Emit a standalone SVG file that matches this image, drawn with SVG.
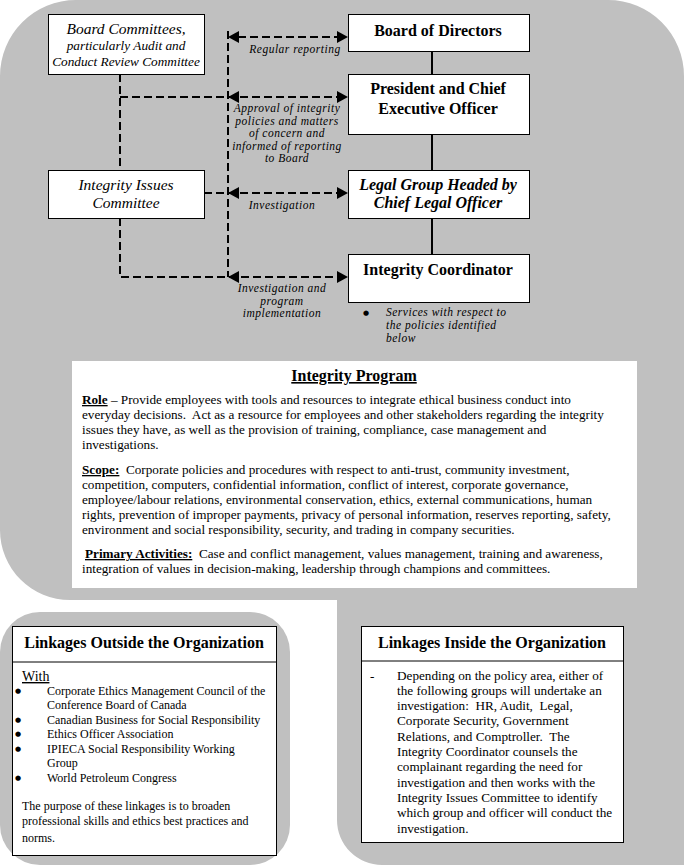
<svg xmlns="http://www.w3.org/2000/svg" width="684" height="865" viewBox="0 0 684 865">
<style>
  text { font-family: "Liberation Serif", "Times New Roman", serif; fill: #000; white-space: pre; }
  .box { fill: #fff; stroke: #000; stroke-width: 1; }
  .bg { fill: #c0c0c0; }
  .dash { fill: none; stroke: #000; stroke-width: 2; stroke-dasharray: 8 4; }
  .solid { fill: none; stroke: #000; stroke-width: 2; }
  .ah { fill: #000; }
  .nb { font-size: 16px; font-weight: bold; text-anchor: middle; }
  .ni { font-style: italic; text-anchor: middle; }
  .lbl { font-size: 11.5px; font-style: italic; text-anchor: middle; letter-spacing: 0.5px; }
  .svc { font-size: 11.5px; font-style: italic; text-anchor: start; letter-spacing: 0.5px; }
  .body { font-size: 13.2px; }
  .bl { font-size: 12px; }
  .br { font-size: 13.2px; }
  .bul { font-family: "DejaVu Sans", sans-serif; font-size: 7px; }
  .u { text-decoration: underline; font-weight: bold; }
  .ttl { font-size: 16px; font-weight: bold; text-anchor: middle; }
</style>
<g id="background">
  <path class="bg" d="M76,0 H608 A76,76 0 0 1 684,76 V865 H382 A45,45 0 0 1 337,820 V600 H70 A70,70 0 0 1 0,530 V76 A76,76 0 0 1 76,0 Z"/>
  <rect class="bg" x="0" y="612" width="290" height="253" rx="40" ry="40"/>
</g>
<g id="connectors">
  <path class="dash" d="M120,74 V277 H338"/>
  <path class="dash" d="M120,97 H338"/>
  <path class="dash" d="M204,193 H338"/>
  <path class="dash" d="M238,37 H338"/>
  <path class="dash" d="M228,31 V277"/>
  <path class="solid" d="M432,51 V74 M432,134 V170 M432,218 V254"/>
  <polygon class="ah" points="348,37 337,31 337,43"/>
  <polygon class="ah" points="228,37 239,31 239,43"/>
  <polygon class="ah" points="348,97 337,91 337,103"/>
  <polygon class="ah" points="228,97 239,91 239,103"/>
  <polygon class="ah" points="348,193 337,187 337,199"/>
  <polygon class="ah" points="228,193 239,187 239,199"/>
  <polygon class="ah" points="348,277 337,271 337,283"/>
  <polygon class="ah" points="228,277 239,271 239,283"/>
  <text class="lbl" x="295" y="53">Regular reporting</text>
  <text class="lbl" x="287" y="112">Approval of integrity</text>
  <text class="lbl" x="287" y="124.5">policies and matters</text>
  <text class="lbl" x="287" y="137">of concern and</text>
  <text class="lbl" x="287" y="149.5">informed of reporting</text>
  <text class="lbl" x="287" y="162">to Board</text>
  <text class="lbl" x="282" y="209">Investigation</text>
  <text class="lbl" x="282" y="292">Investigation and</text>
  <text class="lbl" x="282" y="304.5">program</text>
  <text class="lbl" x="282" y="317">implementation</text>
</g>
<g id="board-committees">
  <rect class="box" x="48.5" y="14.5" width="156" height="60"/>
  <text class="ni" x="126" y="34" font-size="15.5">Board Committees,</text>
  <text class="ni" x="126" y="50" font-size="13.3">particularly Audit and</text>
  <text class="ni" x="126" y="66" font-size="13.3">Conduct Review Committee</text>
</g>
<g id="board-of-directors">
  <rect class="box" x="348.5" y="14.5" width="181" height="37"/>
  <text class="nb" x="438" y="36">Board of Directors</text>
</g>
<g id="president">
  <rect class="box" x="348.5" y="74.5" width="181" height="60"/>
  <text class="nb" x="438" y="94">President and Chief</text>
  <text class="nb" x="438" y="114">Executive Officer</text>
</g>
<g id="integrity-issues-committee">
  <rect class="box" x="48.5" y="170.5" width="156" height="48"/>
  <text class="ni" x="126" y="190" font-size="15.5">Integrity Issues</text>
  <text class="ni" x="126" y="208" font-size="15.5">Committee</text>
</g>
<g id="legal-group">
  <rect class="box" x="348.5" y="170.5" width="181" height="48"/>
  <text class="nb" x="438" y="190" font-style="italic">Legal Group Headed by</text>
  <text class="nb" x="438" y="208" font-style="italic">Chief Legal Officer</text>
</g>
<g id="integrity-coordinator">
  <rect class="box" x="348.5" y="254.5" width="181" height="48"/>
  <text class="nb" x="438" y="275">Integrity Coordinator</text>
  <text class="bul" x="363" y="315">●</text>
  <text class="svc" x="386" y="316">Services with respect to</text>
  <text class="svc" x="386" y="329">the policies identified</text>
  <text class="svc" x="386" y="342">below</text>
</g>
<g id="integrity-program">
  <rect x="72" y="361" width="565" height="227" fill="#fff"/>
  <text x="354" y="381" font-size="16" font-weight="bold" text-anchor="middle" text-decoration="underline">Integrity Program</text>
  <text class="body" x="82" y="404"><tspan class="u">Role</tspan> – Provide employees with tools and resources to integrate ethical business conduct into</text>
  <text class="body" x="82" y="419">everyday decisions.  Act as a resource for employees and other stakeholders regarding the integrity</text>
  <text class="body" x="82" y="434">issues they have, as well as the provision of training, compliance, case management and</text>
  <text class="body" x="82" y="449">investigations.</text>
  <text class="body" x="82" y="474"><tspan class="u">Scope:</tspan>  Corporate policies and procedures with respect to anti-trust, community investment,</text>
  <text class="body" x="82" y="489">competition, computers, confidential information, conflict of interest, corporate governance,</text>
  <text class="body" x="82" y="504">employee/labour relations, environmental conservation, ethics, external communications, human</text>
  <text class="body" x="82" y="519">rights, prevention of improper payments, privacy of personal information, reserves reporting, safety,</text>
  <text class="body" x="82" y="534">environment and social responsibility, security, and trading in company securities.</text>
  <text class="body" x="85" y="558"><tspan class="u">Primary Activities:</tspan>  Case and conflict management, values management, training and awareness,</text>
  <text class="body" x="82" y="573">integration of values in decision-making, leadership through champions and committees.</text>
</g>
<g id="linkages-outside">
  <rect class="box" x="12.5" y="626.5" width="264" height="229"/>
  <line x1="12.5" y1="662" x2="276.5" y2="662" stroke="#000" stroke-width="1"/>
  <text class="ttl" x="144" y="648">Linkages Outside the Organization</text>
  <text x="22" y="681" font-size="14" text-decoration="underline">With</text>
  <text class="bul" x="15" y="693">●</text>
  <text class="bl" x="47" y="695">Corporate Ethics Management Council of the</text>
  <text class="bl" x="47" y="709">Conference Board of Canada</text>
  <text class="bul" x="15" y="722">●</text>
  <text class="bl" x="47" y="724">Canadian Business for Social Responsibility</text>
  <text class="bul" x="15" y="736">●</text>
  <text class="bl" x="47" y="738">Ethics Officer Association</text>
  <text class="bul" x="15" y="751">●</text>
  <text class="bl" x="47" y="753">IPIECA Social Responsibility Working</text>
  <text class="bl" x="47" y="767">Group</text>
  <text class="bul" x="15" y="780">●</text>
  <text class="bl" x="47" y="782">World Petroleum Congress</text>
  <text class="bl" x="22" y="810">The purpose of these linkages is to broaden</text>
  <text class="bl" x="22" y="825">professional skills and ethics best practices and</text>
  <text class="bl" x="22" y="842">norms.</text>
</g>
<g id="linkages-inside">
  <rect class="box" x="361.5" y="626.5" width="262" height="216"/>
  <line x1="361.5" y1="661" x2="623.5" y2="661" stroke="#000" stroke-width="1"/>
  <text class="ttl" x="492" y="648">Linkages Inside the Organization</text>
  <text class="br" x="370" y="680">-</text>
  <text class="br" x="397" y="680">Depending on the policy area, either of</text>
  <text class="br" x="397" y="695">the following groups will undertake an</text>
  <text class="br" x="397" y="710">investigation:  HR, Audit,  Legal,</text>
  <text class="br" x="397" y="725">Corporate Security, Government</text>
  <text class="br" x="397" y="741">Relations, and Comptroller.  The</text>
  <text class="br" x="397" y="756">Integrity Coordinator counsels the</text>
  <text class="br" x="397" y="771">complainant regarding the need for</text>
  <text class="br" x="397" y="787">investigation and then works with the</text>
  <text class="br" x="397" y="802">Integrity Issues Committee to identify</text>
  <text class="br" x="397" y="817">which group and officer will conduct the</text>
  <text class="br" x="397" y="833">investigation.</text>
</g>
</svg>
